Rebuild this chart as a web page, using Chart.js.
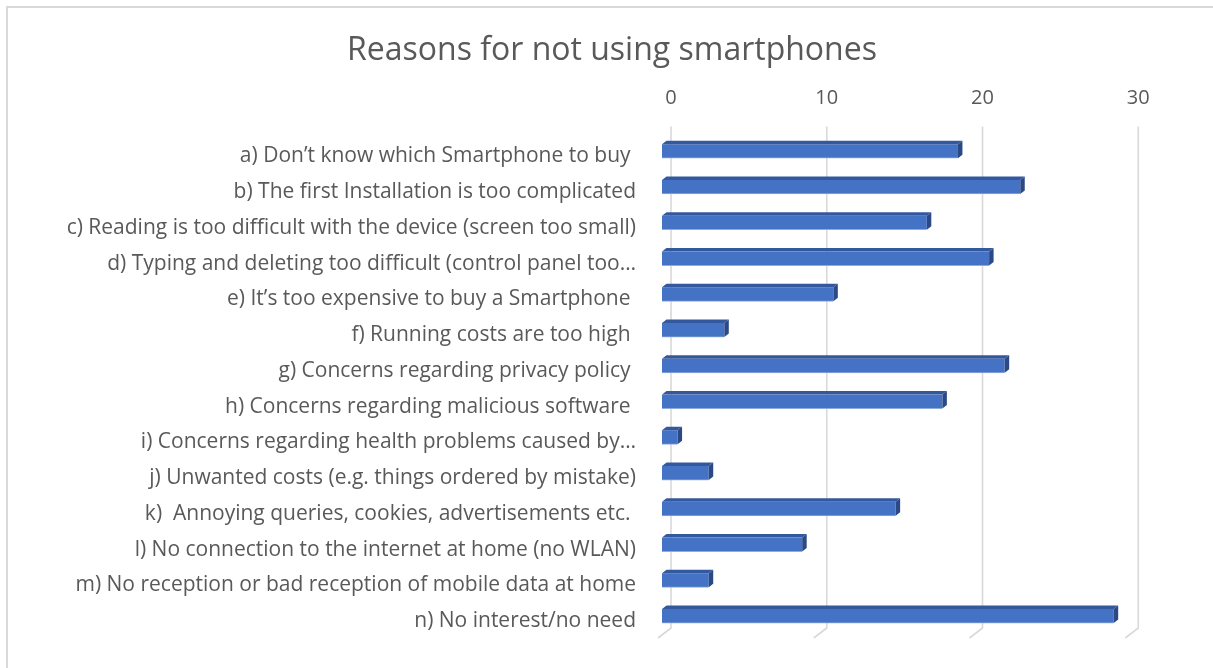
<!DOCTYPE html>
<html>
<head>
<meta charset="utf-8">
<script src="https://cdn.jsdelivr.net/npm/chart.js@4.4.1/dist/chart.umd.min.js"></script>
<style>
  html, body { margin: 0; padding: 0; background: #fff; overflow: hidden; }
  #frame { position: absolute; left: 6px; top: 6px; width: 1300px; height: 800px;
           border-left: 2px solid #d9d9d9; border-top: 2px solid #d9d9d9; }
  #wrap { position: absolute; left: 0; top: 0; width: 1213px; height: 668px; }
</style>
</head>
<body>
<div id="frame"></div>
<div id="wrap"><canvas id="reasons"></canvas></div>
<script>
var reasons = [
    'a) Don\u2019t know which Smartphone to buy ',
    'b) The first Installation is too complicated',
    'c) Reading is too difficult with the device (screen too small)',
    'd) Typing and deleting too difficult (control panel too\u2026',
    'e) It\u2019s too expensive to buy a Smartphone ',
    'f) Running costs are too high ',
    'g) Concerns regarding privacy policy ',
    'h) Concerns regarding malicious software ',
    'i) Concerns regarding health problems caused by\u2026',
    'j) Unwanted costs (e.g. things ordered by mistake)',
    'k)  Annoying queries, cookies, advertisements etc. ',
    'l) No connection to the internet at home (no WLAN)',
    'm) No reception or bad reception of mobile data at home',
    'n) No interest/no need'
];
var answers = [19, 23, 17, 21, 11, 4, 22, 18, 1, 3, 15, 9, 3, 29];
var axis_ticks = [0, 10, 20, 30];

var font_name = '"Open Sans", sans-serif';
var text_grey = '#595959';

// fake 3D: back wall gridlines + floor, then top/side faces on every bar
var depth = {
    id: 'depth',
    beforeDatasetsDraw(chart) {
        var ctx = chart.ctx, x = chart.scales.x, area = chart.chartArea;
        ctx.save();
        ctx.strokeStyle = '#d9d9d9';
        ctx.lineWidth = 1.6;
        axis_ticks.forEach(function (v) {
            var px = x.getPixelForValue(v);
            ctx.beginPath();
            ctx.moveTo(px + 9, area.top - 7);
            ctx.lineTo(px + 9, area.bottom - 6);
            ctx.lineTo(px - 4, area.bottom + 4);
            ctx.stroke();
        });
        ctx.restore();
    },
    afterDatasetsDraw(chart) {
        var ctx = chart.ctx, dx = 4.5, dy = 3.5;
        ctx.save();
        chart.getDatasetMeta(0).data.forEach(function (bar) {
            var p = bar.getProps(['x', 'y', 'base', 'height'], true);
            var x0 = p.base, x1 = p.x, top = p.y - p.height / 2, bot = p.y + p.height / 2;
            ctx.fillStyle = '#34589e';
            ctx.beginPath();
            ctx.moveTo(x0, top);
            ctx.lineTo(x0 + dx, top - dy);
            ctx.lineTo(x1 + dx, top - dy);
            ctx.lineTo(x1, top);
            ctx.closePath();
            ctx.fill();
            ctx.fillStyle = '#2b4a85';
            ctx.beginPath();
            ctx.moveTo(x1, top);
            ctx.lineTo(x1 + dx, top - dy);
            ctx.lineTo(x1 + dx, bot - dy);
            ctx.lineTo(x1, bot);
            ctx.closePath();
            ctx.fill();
        });
        ctx.restore();
    }
};

new Chart(document.getElementById('reasons'), {
    type: 'bar',
    data: {
        labels: reasons,
        datasets: [{
            data: answers,
            backgroundColor: '#4472c4',
            borderColor: '#8faadc',
            borderWidth: { bottom: 1, top: 0, left: 0, right: 0 },
            borderSkipped: false,
            barThickness: 14
        }]
    },
    options: {
        indexAxis: 'y',
        responsive: true,
        maintainAspectRatio: false,
        animation: false,
        layout: { padding: { left: 48, right: 37, top: 0, bottom: 34 } },
        plugins: {
            legend: { display: false },
            tooltip: { enabled: false },
            title: {
                display: true,
                text: 'Reasons for not using smartphones',
                color: text_grey,
                font: { family: font_name, size: 32, weight: 'normal', lineHeight: 1.2 },
                padding: { top: 32, bottom: 4 }
            }
        },
        scales: {
            x: {
                position: 'top',
                min: 0,
                max: 33,
                afterBuildTicks: function (s) { s.ticks = axis_ticks.map(function (v) { return { value: v }; }); },
                afterFit: function (s) { s.height = 59; },
                grid: { display: false, drawTicks: false },
                border: { display: false },
                ticks: {
                    color: text_grey,
                    font: { family: font_name, size: 20 },
                    padding: 23,
                    labelOffset: 9
                }
            },
            y: {
                afterFit: function (s) {
                    s.width = 614;
                    s.paddingTop = 0;
                    s.paddingBottom = 0;
                },
                grid: { display: false, drawTicks: false },
                border: { display: false },
                ticks: {
                    color: text_grey,
                    autoSkip: false,
                    font: { family: font_name, size: 21 },
                    padding: 26,
                    labelOffset: 5
                }
            }
        }
    },
    plugins: [depth]
});
</script>
</body>
</html>
